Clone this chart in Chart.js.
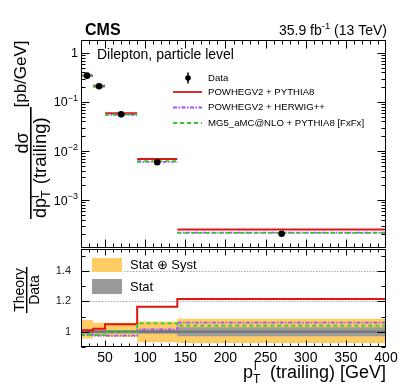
<!DOCTYPE html>
<html lang="en">
<head>
<meta charset="UTF-8">
<title>Dilepton trailing lepton pT</title>
<script src="https://cdn.jsdelivr.net/npm/chart.js"></script>
<style>
  html, body { margin: 0; padding: 0; background: #fff; }
  #wrap { width: 407px; height: 391px; position: relative; }
</style>
</head>
<body>
<div id="wrap"><canvas id="chart"></canvas></div>
<script>
// bins of trailing lepton pT [GeV]
const binEdges = [20, 35, 50, 90, 140, 400];
const binCenters = [27.5, 42.5, 70, 115, 270];

// differential cross section [pb/GeV]
const dataXsec = [0.345, 0.210, 0.056, 0.0059, 0.000205];
const dataErr = [0.025, 0.013, 0.0035, 0.0004, 0.000016];
const powhegPythia = [0.349, 0.214, 0.059, 0.0069, 0.000249];
const powhegHerwig = [0.337, 0.205, 0.0546, 0.0060, 0.000217];
const mg5Pythia = [0.338, 0.206, 0.056, 0.0062, 0.000213];

// theory / data
const ratioPowhegPythia = [1.01, 1.02, 1.05, 1.165, 1.215];
const ratioPowhegHerwig = [0.98, 0.975, 0.975, 1.015, 1.06];
const ratioMg5Pythia = [0.98, 0.98, 1.0, 1.055, 1.04];

// uncertainty bands around 1
const totUp = [1.078, 1.06, 1.06, 1.068, 1.085];
const totDown = [0.955, 0.97, 0.965, 0.932, 0.927];
const statUp = [1.013, 1.012, 1.012, 1.013, 1.03];
const statDown = [0.987, 0.988, 0.988, 0.987, 0.97];

const xTicks = [50, 100, 150, 200, 250, 300, 350, 400];
const ratioTicks = [1, 1.2, 1.4];
const logTicks = [1, 0.1, 0.01, 0.001];
const logTickLabels = [['1', ''], ['10', '\u22121'], ['10', '\u22122'], ['10', '\u22123']];

const FONT = "'Liberation Sans', Arial, Helvetica, sans-serif";
const RED = '#dd1515';
const PURPLE = '#a050ff';
const GREEN = '#2ccc2c';
const ORANGE = '#ffcc66';
const GRAY = '#9a9a9a';

Chart.defaults.font.family = FONT;
Chart.defaults.color = '#000';

// one horizontal bar per bin (not connected)
function bars(vals) {
  const pts = [];
  vals.forEach((v, i) => {
    pts.push({x: binEdges[i], y: v}, {x: binEdges[i + 1], y: v}, {x: binEdges[i + 1], y: null});
  });
  return pts;
}
// histogram steps (connected)
function steps(vals) {
  const pts = [];
  vals.forEach((v, i) => {
    pts.push({x: binEdges[i], y: v}, {x: binEdges[i + 1], y: v});
  });
  return pts;
}

function drawRot(ctx, text, sx, sy, font, align) {
  ctx.save();
  ctx.translate(sx, sy);
  ctx.rotate(-Math.PI / 2);
  ctx.font = font;
  ctx.textAlign = align || 'left';
  ctx.fillText(text, 0, 0);
  ctx.restore();
}

const decor = {
  id: 'decor',
  beforeDatasetsDraw(chart) {
    const {ctx, chartArea: a} = chart;
    const yR = chart.scales.yR;
    ctx.save();
    ctx.strokeStyle = '#a8a8a8';
    ctx.lineWidth = 1;
    ctx.setLineDash([1.5, 1.5]);
    [1.2, 1.4].forEach(v => {
      const y = Math.round(yR.getPixelForValue(v)) + 0.5;
      ctx.beginPath();
      ctx.moveTo(v === 1.4 ? 124 : a.left, y);
      ctx.lineTo(a.right, y);
      ctx.stroke();
    });
    ctx.restore();
  },
  afterDatasetsDraw(chart) {
    const {ctx} = chart;
    const xs = chart.scales.x, ys = chart.scales.y;
    ctx.save();
    ctx.strokeStyle = '#000';
    ctx.lineWidth = 1.5;
    dataXsec.forEach((v, i) => {
      const px = xs.getPixelForValue(binCenters[i]);
      ctx.beginPath();
      ctx.moveTo(px, ys.getPixelForValue(v + dataErr[i]));
      ctx.lineTo(px, ys.getPixelForValue(v - dataErr[i]));
      ctx.stroke();
    });
    ctx.restore();
  },
  afterDraw(chart) {
    const {ctx, chartArea: a} = chart;
    const xs = chart.scales.x, ys = chart.scales.y, yR = chart.scales.yR;
    const L = a.left + 0.5, R = a.right - 0.5;
    const upTop = ys.top + 0.5, upBot = ys.bottom - 0.5;
    const loTop = yR.top + 1.5, loBot = yR.bottom - 0.5;
    ctx.save();
    ctx.strokeStyle = '#000';
    ctx.lineWidth = 1;
    ctx.strokeRect(L, upTop, R - L, upBot - upTop);
    ctx.strokeRect(L, loTop, R - L, loBot - loTop);

    ctx.beginPath();
    // x ticks on all panel edges
    for (let v = 30; v < 400; v += 10) {
      const px = Math.round(xs.getPixelForValue(v)) + 0.5;
      const maj = v % 50 === 0;
      ctx.moveTo(px, upTop); ctx.lineTo(px, upTop + (maj ? 8 : 4));
      ctx.moveTo(px, upBot); ctx.lineTo(px, upBot - (maj ? 8 : 4));
      ctx.moveTo(px, loTop); ctx.lineTo(px, loTop + (maj ? 6 : 3));
      ctx.moveTo(px, loBot); ctx.lineTo(px, loBot - (maj ? 6 : 3));
    }
    // log y ticks
    [1e-4, 1e-3, 1e-2, 1e-1, 1].forEach(d => {
      for (let k = 1; k <= 9; k++) {
        const v = k * d;
        if (v < ys.min || v > ys.max) continue;
        const py = Math.round(ys.getPixelForValue(v)) + 0.5;
        const len = k === 1 ? 8 : 4;
        ctx.moveTo(L, py); ctx.lineTo(L + len, py);
        ctx.moveTo(R, py); ctx.lineTo(R - len, py);
      }
    });
    // ratio y ticks
    for (let i = 9; i <= 15; i++) {
      const py = Math.round(yR.getPixelForValue(i / 10)) + 0.5;
      const len = (i % 2 === 0) ? 8 : 4;
      ctx.moveTo(L, py); ctx.lineTo(L + len, py);
      ctx.moveTo(R, py); ctx.lineTo(R - len, py);
    }
    ctx.stroke();

    ctx.fillStyle = '#000';
    ctx.textBaseline = 'alphabetic';
    // log tick labels with exponents
    logTicks.forEach((v, i) => {
      const py = ys.getPixelForValue(v);
      const [base, exp] = logTickLabels[i];
      ctx.textAlign = 'right';
      let x = 78;
      if (exp) {
        ctx.font = '9px ' + FONT;
        ctx.fillText(exp, x, py - 1);
        x -= ctx.measureText(exp).width;
      }
      ctx.font = '12.5px ' + FONT;
      ctx.fillText(base, x, py + 4.5);
    });

    // header
    ctx.textAlign = 'left';
    ctx.font = 'bold 16px ' + FONT;
    ctx.fillText('CMS', 85, 35);
    ctx.font = '14px ' + FONT;
    const tail = ' (13 TeV)';
    const tw = ctx.measureText(tail).width;
    ctx.textAlign = 'right';
    ctx.fillText(tail, 387, 35);
    ctx.font = '9.5px ' + FONT;
    const sw = ctx.measureText('-1').width;
    ctx.fillText('-1', 387 - tw, 29);
    ctx.font = '14px ' + FONT;
    ctx.fillText('35.9 fb', 387 - tw - sw, 35);
    ctx.textAlign = 'left';
    ctx.fillText('Dilepton, particle level', 97, 59);

    // legend, upper panel
    ctx.font = '9.6px ' + FONT;
    ctx.textBaseline = 'middle';
    const lx = 208;
    ctx.fillText('Data', lx, 78);
    ctx.fillText('POWHEGV2 + PYTHIA8', lx, 92);
    ctx.fillText('POWHEGV2 + HERWIG++', lx, 107.5);
    ctx.fillText('MG5_aMC@NLO + PYTHIA8 [FxFx]', lx, 123);
    ctx.beginPath();
    ctx.arc(188, 78, 2.8, 0, Math.PI * 2);
    ctx.fill();
    ctx.lineWidth = 1.5;
    ctx.beginPath();
    ctx.moveTo(188, 72.5); ctx.lineTo(188, 83.5);
    ctx.stroke();
    ctx.lineWidth = 1.8;
    [[RED, [], 92], [PURPLE, [4, 1.5, 1.5, 1.5], 107.5], [GREEN, [4, 3], 123]].forEach(([c, dash, y]) => {
      ctx.strokeStyle = c;
      ctx.setLineDash(dash);
      ctx.beginPath();
      ctx.moveTo(173, y); ctx.lineTo(202, y);
      ctx.stroke();
    });
    ctx.setLineDash([]);

    // legend, ratio panel
    ctx.fillStyle = ORANGE;
    ctx.fillRect(92, 258, 30, 14);
    ctx.fillStyle = GRAY;
    ctx.fillRect(92, 279, 30, 15);
    ctx.fillStyle = '#000';
    ctx.font = '13px ' + FONT;
    ctx.fillText('Stat \u2295 Syst', 130, 265.5);
    ctx.fillText('Stat', 130, 287);

    // x title
    ctx.textBaseline = 'alphabetic';
    ctx.font = '18px ' + FONT;
    ctx.fillText('p', 243, 378);
    ctx.font = '12px ' + FONT;
    ctx.fillText('T', 253, 383);
    ctx.fillText('l', 254, 370);
    ctx.font = '18px ' + FONT;
    ctx.textAlign = 'right';
    ctx.fillText('(trailing) [GeV]', 386, 378);

    // y title, upper panel
    drawRot(ctx, '[pb/GeV]', 26, 74, '17px ' + FONT, 'center');
    drawRot(ctx, 'd\u03c3', 28, 143, '18px ' + FONT, 'center');
    ctx.fillRect(30, 107, 1.6, 112);
    drawRot(ctx, 'dp', 46, 218, '18px ' + FONT, 'left');
    ctx.font = '18px ' + FONT;
    const dpW = ctx.measureText('dp').width;
    drawRot(ctx, 'T', 50, 218 - dpW, '12.5px ' + FONT, 'left');
    drawRot(ctx, 'l', 38.5, 218 - dpW, '12.5px ' + FONT, 'left');
    ctx.font = '12.5px ' + FONT;
    const tW = ctx.measureText('T').width;
    drawRot(ctx, ' (trailing)', 46, 218 - dpW - tW - 1, '18.5px ' + FONT, 'left');

    // y title, ratio panel
    drawRot(ctx, 'Theory', 24, 290, '14px ' + FONT, 'center');
    ctx.fillRect(26, 267, 1.4, 46);
    drawRot(ctx, 'Data', 39, 290, '14px ' + FONT, 'center');
    ctx.restore();
  }
};

const lineStyle = {pointRadius: 0, fill: false, spanGaps: false, tension: 0};

new Chart(document.getElementById('chart'), {
  type: 'line',
  data: {
    datasets: [
      {label: 'Data', data: dataXsec.map((v, i) => ({x: binCenters[i], y: v})), yAxisID: 'y',
       showLine: false, pointRadius: 3.3, pointBackgroundColor: '#000', pointBorderWidth: 0, order: 0},
      {label: 'POWHEGV2 + PYTHIA8', data: bars(powhegPythia), yAxisID: 'y', borderColor: RED, borderWidth: 2, ...lineStyle, order: 3},
      {label: 'POWHEGV2 + HERWIG++', data: bars(powhegHerwig), yAxisID: 'y', borderColor: PURPLE, borderWidth: 1.8, borderDash: [4, 1.5, 1.5, 1.5], ...lineStyle, order: 2},
      {label: 'MG5_aMC@NLO + PYTHIA8 [FxFx]', data: bars(mg5Pythia), yAxisID: 'y', borderColor: GREEN, borderWidth: 1.8, borderDash: [4, 3], ...lineStyle, order: 1},

      {label: 'ratio red', data: steps(ratioPowhegPythia), yAxisID: 'yR', borderColor: RED, borderWidth: 2, ...lineStyle, order: 3},
      {label: 'ratio purple', data: steps(ratioPowhegHerwig), yAxisID: 'yR', borderColor: PURPLE, borderWidth: 1.8, borderDash: [4, 1.5, 1.5, 1.5], ...lineStyle, order: 2},
      {label: 'ratio green', data: steps(ratioMg5Pythia), yAxisID: 'yR', borderColor: GREEN, borderWidth: 1.8, borderDash: [4, 3], ...lineStyle, order: 1},

      {label: 'unity', data: [{x: binEdges[0], y: 1}, {x: binEdges[binEdges.length - 1], y: 1}], yAxisID: 'yR',
       borderColor: '#707070', borderWidth: 2, ...lineStyle, order: 5},
      {label: 'stat up', data: steps(statUp), yAxisID: 'yR', borderWidth: 0, borderColor: 'rgba(0,0,0,0)', pointRadius: 0, fill: false, order: 7},
      {label: 'stat down', data: steps(statDown), yAxisID: 'yR', borderWidth: 0, borderColor: 'rgba(0,0,0,0)', pointRadius: 0, fill: '-1', backgroundColor: GRAY, order: 6},
      {label: 'tot up', data: steps(totUp), yAxisID: 'yR', borderWidth: 0, borderColor: 'rgba(0,0,0,0)', pointRadius: 0, fill: false, order: 9},
      {label: 'tot down', data: steps(totDown), yAxisID: 'yR', borderWidth: 0, borderColor: 'rgba(0,0,0,0)', pointRadius: 0, fill: '-1', backgroundColor: ORANGE, order: 8}
    ]
  },
  options: {
    responsive: true,
    maintainAspectRatio: false,
    animation: false,
    events: [],
    layout: {padding: {left: 0, top: 40, right: 21, bottom: 0}},
    plugins: {legend: {display: false}, tooltip: {enabled: false}},
    scales: {
      x: {
        type: 'linear', min: 20, max: 400, position: 'bottom',
        grid: {display: false, drawTicks: false}, border: {display: false},
        ticks: {font: {size: 14}, color: '#000', padding: 3, maxRotation: 0},
        afterBuildTicks: s => { s.ticks = xTicks.map(v => ({value: v})); },
        afterFit: s => { s.height = 44; }
      },
      yR: {
        type: 'linear', min: 0.9, max: 1.55, position: 'left', stack: 'panels', stackWeight: 99,
        grid: {display: false, drawTicks: false}, border: {display: false},
        ticks: {font: {size: 11}, color: '#222', padding: 10,
                callback: v => v === 1 ? '1' : v.toFixed(1)},
        afterBuildTicks: s => { s.ticks = ratioTicks.map(v => ({value: v})); },
        afterFit: s => { s.width = 81; }
      },
      y: {
        type: 'logarithmic', min: 1.05e-4, max: 1.84, position: 'left', stack: 'panels', stackWeight: 208,
        grid: {display: false, drawTicks: false}, border: {display: false},
        ticks: {display: false},
        afterFit: s => { s.width = 81; }
      }
    }
  },
  plugins: [decor]
});
</script>
</body>
</html>
